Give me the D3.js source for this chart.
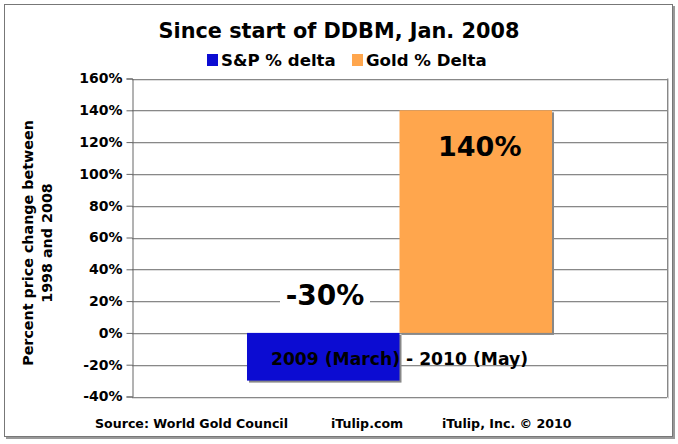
<!DOCTYPE html>
<html><head><meta charset="utf-8">
<script src="https://cdn.jsdelivr.net/npm/d3@7"></script>
<style>
body{margin:0;background:#fff;}
svg text{font-family:"DejaVu Sans",Verdana,sans-serif;font-weight:bold;fill:#000;}
</style></head>
<body><svg id="c" width="678" height="444"></svg>
<script>
const categories = ["2009 (March) - 2010 (May)"];
const seriesNames = ["S&P % delta", "Gold % Delta"];
const seriesValues = [-30, 140];
const seriesColors = ["#0c0cd2", "#ffa64d"];
const barLabels = ["-30%", "140%"];
const yTicks = [-40, -20, 0, 20, 40, 60, 80, 100, 120, 140, 160];

const svg = d3.select("#c");
// outer frame
svg.append("rect").attr("x",6).attr("y",6).attr("width",669).attr("height",433).attr("fill","#999");
svg.append("rect").attr("x",4.5).attr("y",4.5).attr("width",668).attr("height",432).attr("fill","#fff").attr("stroke","#777").attr("stroke-width",1);

const L = 132, R = 667, T = 78.5, B = 396.5;
const y = d3.scaleLinear().domain([-40,160]).range([B,T]);
const x0 = d3.scaleBand().domain(categories).range([L,R]).paddingInner(0).paddingOuter(0.377);
const x1 = d3.scaleBand().domain(seriesNames).range([0,x0.bandwidth()]);

// gridlines
const grid = svg.append("g");
yTicks.forEach(t=>{
  grid.append("line").attr("x1",L).attr("x2",R).attr("y1",Math.round(y(t))+1.5).attr("y2",Math.round(y(t))+1.5).attr("stroke","#ddd");
  grid.append("line").attr("x1",L).attr("x2",R).attr("y1",Math.round(y(t))+0.5).attr("y2",Math.round(y(t))+0.5).attr("stroke","#888");
});
svg.append("line").attr("x1",R+0.5).attr("x2",R+0.5).attr("y1",T).attr("y2",B+1).attr("stroke","#888");
svg.append("line").attr("x1",R+1.5).attr("x2",R+1.5).attr("y1",T).attr("y2",B+2).attr("stroke","#ccc");

// bars
const bars = svg.append("g");
seriesValues.forEach((v,i)=>{
  const bx = x0(categories[0]) + x1(seriesNames[i]);
  const by = y(Math.max(0,v)), bh = Math.abs(y(v)-y(0));
  bars.append("rect").attr("x",bx+2).attr("y",by+2).attr("width",x1.bandwidth()).attr("height",bh).attr("fill","#888");
});
seriesValues.forEach((v,i)=>{
  const bx = x0(categories[0]) + x1(seriesNames[i]);
  const by = y(Math.max(0,v)), bh = Math.abs(y(v)-y(0));
  bars.append("rect").attr("x",bx).attr("y",by).attr("width",x1.bandwidth()).attr("height",bh).attr("fill",seriesColors[i]);
});

// y axis
const ax = svg.append("g").attr("transform",`translate(${L+0.5},0)`)
  .call(d3.axisLeft(y).tickValues(yTicks).tickSize(6).tickPadding(4).tickFormat(d=>d+"%"));
ax.select(".domain").attr("stroke","#666");
ax.selectAll(".tick line").attr("stroke","#666");
ax.selectAll("text").style("font-size","14px").style("font-family","'DejaVu Sans',Verdana,sans-serif").style("font-weight","bold").attr("fill","#000");

// category label
svg.append("text").attr("x",x0(categories[0])+x0.bandwidth()/2).attr("y",365)
  .attr("text-anchor","middle").style("font-size","17.2px").text(categories[0]);

// bar value labels
svg.append("rect").attr("x",280).attr("y",285).attr("width",90).attr("height",24).attr("fill","#fff");
svg.append("text").attr("x",325).attr("y",305).attr("text-anchor","middle").style("font-size","28px")
  .text(barLabels[0]);
svg.append("text").attr("x",x0(categories[0])+x1(seriesNames[1])+x1.bandwidth()/2+4).attr("y",y(140)+46).attr("text-anchor","middle").style("font-size","27px")
  .text(barLabels[1]);

// title
svg.append("text").attr("x",339).attr("y",38).attr("text-anchor","middle").style("font-size","20.8px").text("Since start of DDBM, Jan. 2008");

// legend
const lg = svg.append("g");
const lgItems = [{x:207,tx:221},{x:352,tx:366}];
seriesNames.forEach((n,i)=>{
  lg.append("rect").attr("x",lgItems[i].x).attr("y",54).attr("width",11).attr("height",12).attr("fill",seriesColors[i]);
  lg.append("text").attr("x",lgItems[i].tx).attr("y",66).style("font-size","16.6px").text(n);
});

// y axis title
const yt = svg.append("text").attr("text-anchor","middle").style("font-size","14.3px");
yt.append("tspan").attr("x",0).attr("y",0).text("Percent price change between");
yt.append("tspan").attr("x",0).attr("y",19).text("1998 and 2008");
yt.attr("transform","translate(33,243) rotate(-90)");

// footer
const foot = [["Source: World Gold Council",95],["iTulip.com",331],["iTulip, Inc. \u00a9 2010",442]];
foot.forEach(f=>svg.append("text").attr("x",f[1]).attr("y",428).style("font-size","12.6px").text(f[0]));
</script></body></html>
